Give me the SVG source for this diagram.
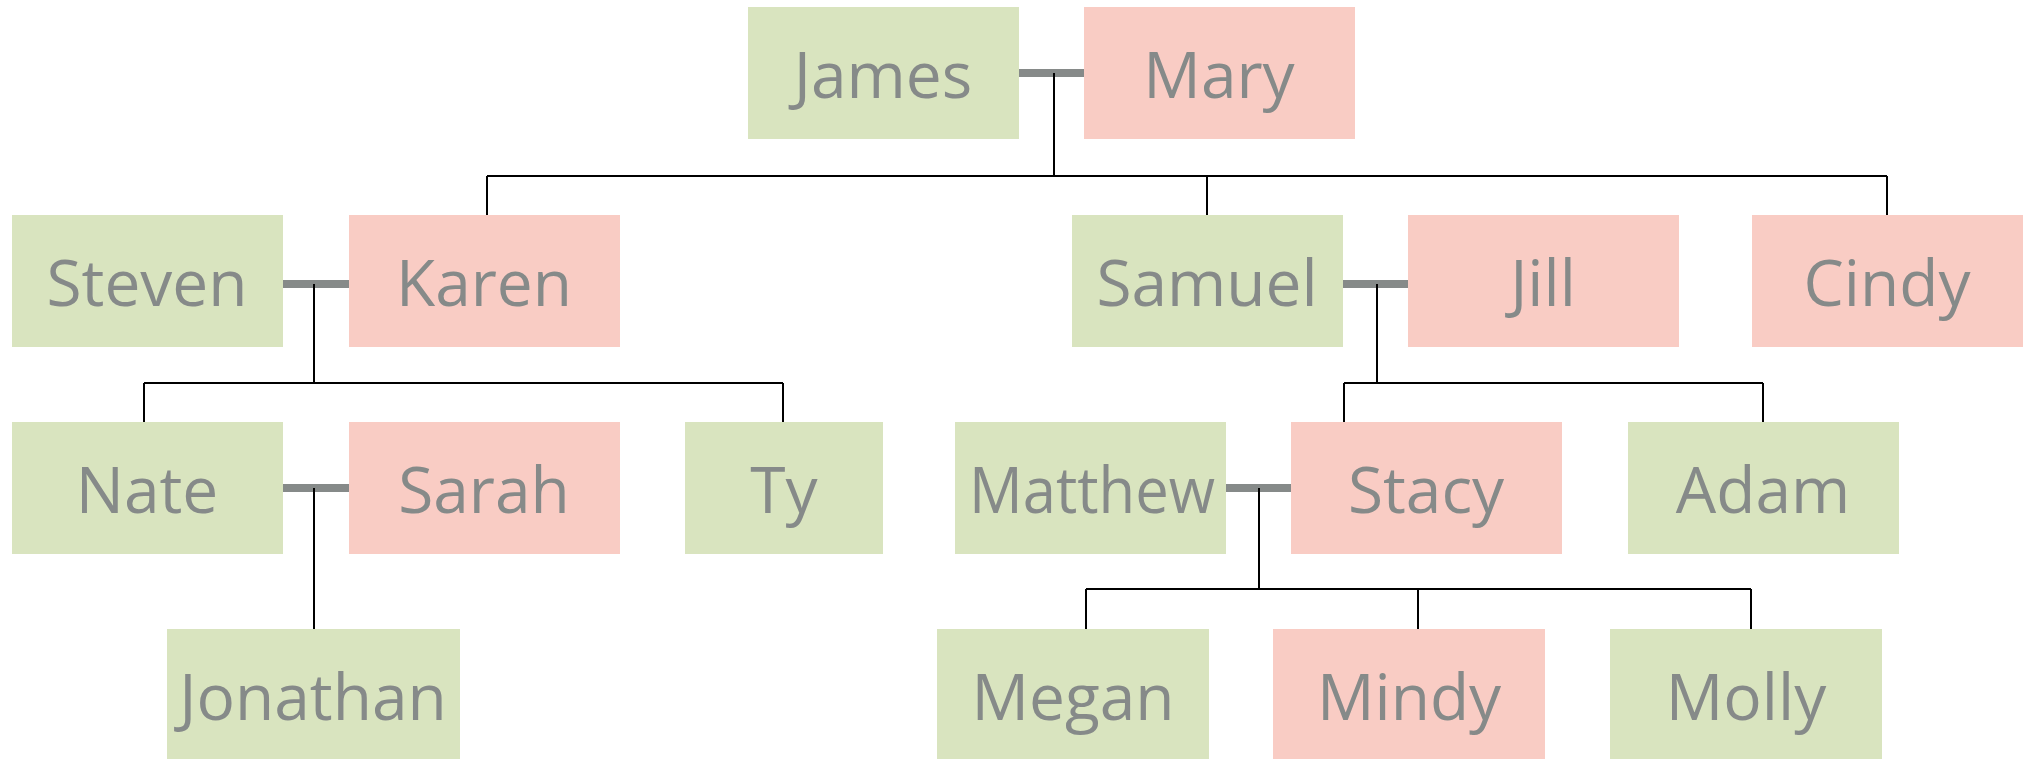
<svg xmlns="http://www.w3.org/2000/svg" width="2027" height="759" viewBox="0 0 2027 759">
<style>
.m{fill:#d9e4bf}
.f{fill:#f9ccc4}
text{font-family:"Open Sans","Noto Sans",sans-serif;font-size:64px;fill:#868a89;text-anchor:middle}
.c{stroke:#000;stroke-width:2;fill:none}
.k{stroke:#868a89;stroke-width:8;fill:none}
</style>
<rect width="2027" height="759" fill="#fff"/>
<g id="connectors">
<path class="k" d="M1019 73H1084M283 284H349M1343 284H1408M283 488H349M1226 488H1291"/>
<path class="c" d="M1054 73V176M487 176H1887M487 176V215M1207 176V215M1887 176V215"/>
<path class="c" d="M314 284V383M144 383H783M144 383V422M783 383V422"/>
<path class="c" d="M1377 284V383M1344 383H1763M1344 383V422M1763 383V422"/>
<path class="c" d="M314 488V629"/>
<path class="c" d="M1259 488V589M1086 589H1751M1086 589V629M1418 589V629M1751 589V629"/>
</g>
<g id="james"><rect class="m" x="748" y="7" width="271" height="132"/><text x="883" y="98">James</text></g>
<g id="mary"><rect class="f" x="1084" y="7" width="271" height="132"/><text x="1219" y="98">Mary</text></g>
<g id="steven"><rect class="m" x="12" y="215" width="271" height="132"/><text x="147" y="306">Steven</text></g>
<g id="karen"><rect class="f" x="349" y="215" width="271" height="132"/><text x="484" y="306">Karen</text></g>
<g id="samuel"><rect class="m" x="1072" y="215" width="271" height="132"/><text x="1207" y="306">Samuel</text></g>
<g id="jill"><rect class="f" x="1408" y="215" width="271" height="132"/><text x="1543" y="306">Jill</text></g>
<g id="cindy"><rect class="f" x="1752" y="215" width="271" height="132"/><text x="1887" y="306">Cindy</text></g>
<g id="nate"><rect class="m" x="12" y="422" width="271" height="132"/><text x="147" y="513">Nate</text></g>
<g id="sarah"><rect class="f" x="349" y="422" width="271" height="132"/><text x="484" y="513">Sarah</text></g>
<g id="ty"><rect class="m" x="685" y="422" width="198" height="132"/><text x="784" y="513">Ty</text></g>
<g id="matthew"><rect class="m" x="955" y="422" width="271" height="132"/><text x="1092" y="513" textLength="246" lengthAdjust="spacingAndGlyphs">Matthew</text></g>
<g id="stacy"><rect class="f" x="1291" y="422" width="271" height="132"/><text x="1426" y="513">Stacy</text></g>
<g id="adam"><rect class="m" x="1628" y="422" width="271" height="132"/><text x="1763" y="513">Adam</text></g>
<g id="jonathan"><rect class="m" x="167" y="629" width="293" height="132"/><text x="313" y="720">Jonathan</text></g>
<g id="megan"><rect class="m" x="937" y="629" width="272" height="132"/><text x="1073" y="720">Megan</text></g>
<g id="mindy"><rect class="f" x="1273" y="629" width="272" height="132"/><text x="1409" y="720">Mindy</text></g>
<g id="molly"><rect class="m" x="1610" y="629" width="272" height="132"/><text x="1746" y="720">Molly</text></g>
</svg>
